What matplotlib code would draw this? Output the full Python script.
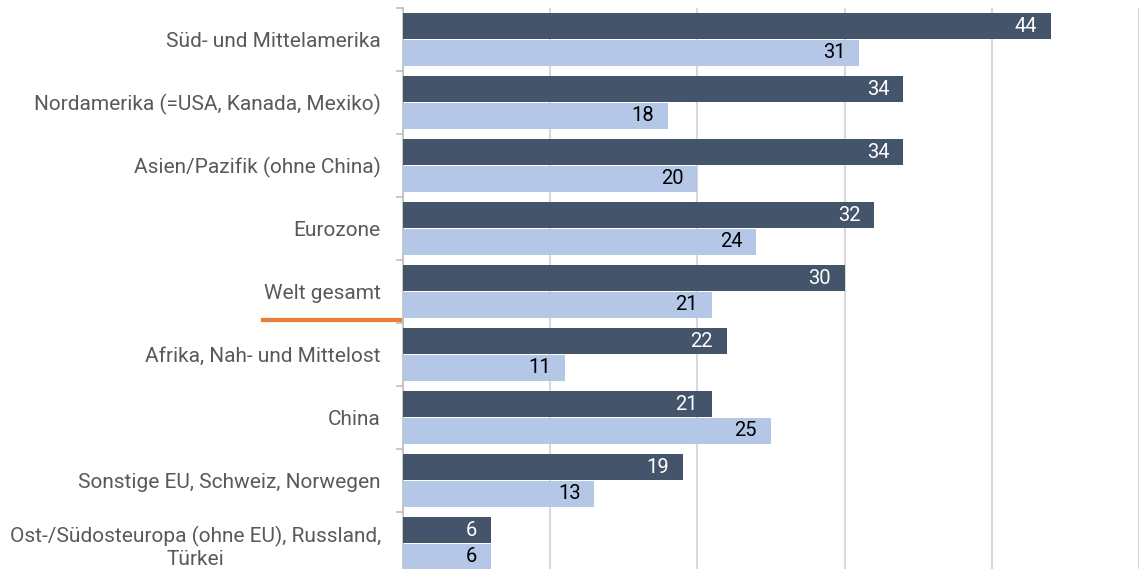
import numpy as np
import matplotlib
matplotlib.use("Agg")
from matplotlib import pyplot as plt
from matplotlib.lines import Line2D

plt.rcParams['font.family'] = ['Roboto', 'DejaVu Sans']

regions = ["Süd- und Mittelamerika",
           "Nordamerika (=USA, Kanada, Mexiko)",
           "Asien/Pazifik (ohne China)",
           "Eurozone",
           "Welt gesamt",
           "Afrika, Nah- und Mittelost",
           "China",
           "Sonstige EU, Schweiz, Norwegen",
           "Ost-/Südosteuropa (ohne EU), Russland,\nTürkei"]
series_dark = [44, 34, 34, 32, 30, 22, 21, 19, 6]
series_light = [31, 18, 20, 24, 21, 11, 25, 13, 6]

dark = '#44546a'
light = '#b4c7e7'

fig = plt.figure(figsize=(11.43, 5.69), dpi=100)
ax = fig.add_axes([403 / 1143, -6 / 569, 736 / 1143, 567 / 569])

y = np.arange(len(regions))
h = 0.42
off = 0.214
bars_d = ax.barh(y - off, series_dark, height=h, color=dark, zorder=3)
bars_l = ax.barh(y + off, series_light, height=h, color=light, zorder=3)

# value labels inside the bar end
for bars, vals, col in [(bars_d, series_dark, 'white'), (bars_l, series_light, 'black')]:
    for b, v in zip(bars, vals):
        ax.annotate(str(v), (v, b.get_y() + b.get_height() / 2),
                    xytext=(-10, 0), textcoords='offset points',
                    ha='right', va='center', color=col, fontsize=14.5, zorder=4)

ax.set_xlim(0, 50)
ax.set_ylim(len(regions) - 0.5, -0.5)
ax.set_xticks([0, 10, 20, 30, 40, 50])
ax.xaxis.grid(True, color='#d9d9d9', linewidth=1.5, zorder=0)
ax.tick_params(axis='x', length=0, labelbottom=False)

ax.set_yticks(y)
ax.set_yticklabels(regions, multialignment='center', linespacing=1.25)
ax.set_yticks(np.arange(len(regions) + 1) - 0.5, minor=True)
ax.tick_params(axis='y', which='major', length=0, pad=16, labelsize=15, labelcolor='#595959')
ax.tick_params(axis='y', which='minor', length=5, color='#bfbfbf', width=1.2)

for s in ['top', 'right', 'bottom']:
    ax.spines[s].set_visible(False)
ax.spines['left'].set_color('#bfbfbf')
ax.spines['left'].set_linewidth(1.2)

# orange underline for "Welt gesamt"
fig.add_artist(Line2D([263 / 1143, 400 / 1143], [1 - 320 / 569, 1 - 320 / 569],
                      color='#ed7d31', linewidth=3))

plt.savefig('out.png', dpi=100)
